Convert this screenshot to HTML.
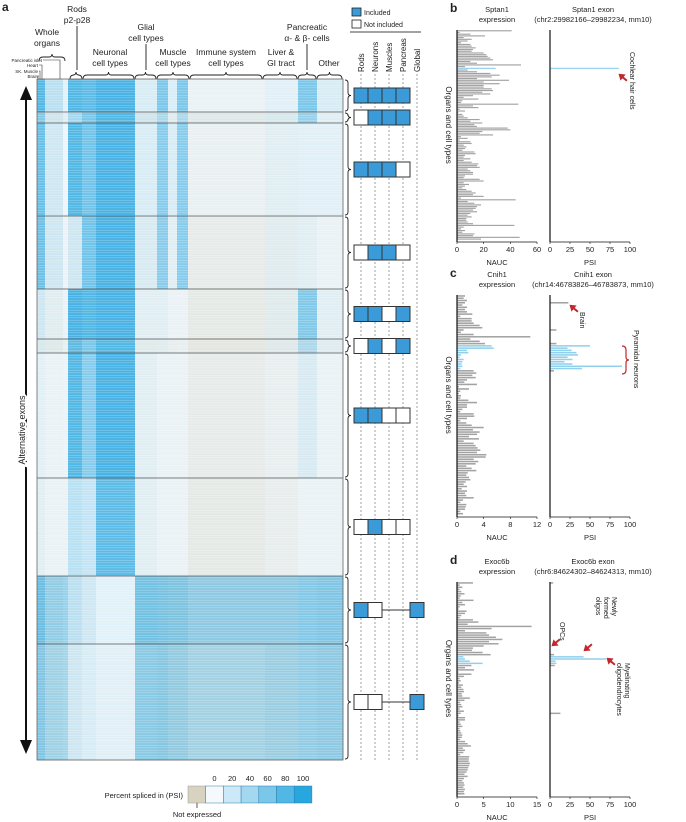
<!DOCTYPE html>
<html><head><meta charset="utf-8"><style>
html,body{margin:0;padding:0;background:#fff;}
svg{display:block;font-family:"Liberation Sans",Arial,sans-serif;}
text{fill:#222;}
</style></head><body>
<svg id="fig" width="686" height="822" viewBox="0 0 686 822" xmlns="http://www.w3.org/2000/svg">
<defs>
<pattern id="stripes" width="4" height="2.5" patternUnits="userSpaceOnUse"><rect x="0" y="0" width="4" height="0.6" fill="#fff" opacity="0.35"/></pattern>
</defs>
<g id="panelA">
<text x="2" y="11" font-size="12" font-weight="bold">a</text>
<g font-size="8.5" text-anchor="middle">
<text x="77" y="12">Rods</text><text x="77" y="23">p2-p28</text>
<text x="47" y="35">Whole</text><text x="47" y="46">organs</text>
<text x="146" y="30">Glial</text><text x="146" y="41">cell types</text>
<text x="110" y="55">Neuronal</text><text x="110" y="66">cell types</text>
<text x="173" y="55">Muscle</text><text x="173" y="66">cell types</text>
<text x="226" y="55">Immune system</text><text x="226" y="66">cell types</text>
<text x="281" y="55">Liver &amp;</text><text x="281" y="66">GI tract</text>
<text x="307" y="30">Pancreatic</text><text x="307" y="41">α- &amp; β- cells</text>
<text x="329" y="66">Other</text>
</g>
<g font-size="4.5" text-anchor="end">
<text x="42" y="62">Pancreatic islet</text><text x="38" y="67">Heart</text><text x="38" y="73">SK. Muscle</text><text x="38" y="78">Brain</text>
</g>
<g stroke="#333" stroke-width="0.6" fill="none">
<path d="M43 60 H60 V79"/><path d="M39 65 H42 V79"/><path d="M39 71 H40 V79"/><path d="M39 76 H38 V79"/>
<path d="M77 26 V70" stroke-width="1"/><path d="M146 44 V70" stroke-width="1"/><path d="M307 44 V70" stroke-width="1"/>
</g>
<g id="braces" stroke="#222" stroke-width="0.9" fill="none"></g>
<g id="heat"></g>
<g id="arrow">
<line x1="26" y1="98" x2="26" y2="742" stroke="#111" stroke-width="2"/>
<polygon points="26,86 20,100 32,100" fill="#111"/><polygon points="26,754 20,740 32,740" fill="#111"/>
<text x="0" y="0" font-size="9" text-anchor="middle" transform="translate(25,430) rotate(-90)" style="paint-order:stroke" stroke="#fff" stroke-width="4">Alternative exons</text>
</g>
<g id="legendTop">
<rect x="352" y="8" width="9" height="8" fill="#3a9bd8" stroke="#222" stroke-width="0.8"/>
<text x="364" y="15" font-size="7">Included</text>
<rect x="352" y="20" width="9" height="8" fill="#fff" stroke="#222" stroke-width="0.8"/>
<text x="364" y="27" font-size="7">Not included</text>
<line x1="350" y1="32" x2="421" y2="32" stroke="#444" stroke-width="1"/>
</g>
<g id="boxes"></g>
<g id="cbar"></g>
</g>
<g id="panels"></g>
</svg>
<script>
const NS="http://www.w3.org/2000/svg";
function mk(tag,attrs,parent){const e=document.createElementNS(NS,tag);for(const k in attrs)e.setAttribute(k,attrs[k]);parent.appendChild(e);return e;}

// ---------- Heatmap data ----------
const colEdges=[37,45,63,68,82,96,135,157,168,177,188,265,298,317,343];
const rowEdges=[79,112,123,216,289,339,353,478,576,644,760];
const psiBlocks=[
[80,30,10,80,75,85,15,60,15,60,5,10,60,15],
[60,20,10,40,60,80,20,40,10,40,10,15,50,10],
[70,20,5,80,65,85,15,55,15,55,5,10,10,10],
[70,20,5,20,65,85,15,55,10,55,5,10,10,5],
[20,10,5,85,80,85,10,10,5,5,5,10,60,10],
[15,10,5,80,60,80,10,10,5,5,5,10,40,10],
[10,5,5,80,55,85,10,5,5,5,5,5,15,5],
[10,5,5,30,25,75,10,5,5,5,5,5,5,5],
[75,55,50,30,20,10,70,70,70,70,60,60,60,65],
[65,50,45,20,15,10,60,65,60,60,50,55,55,60]];
const neBlocks=[
[0,0.05,0,0,0,0,0.05,0,0,0,0.1,0.05,0,0.05],
[0.1,0.2,0.1,0,0,0,0.2,0.1,0.2,0.1,0.3,0.2,0.1,0.1],
[0,0.05,0,0,0,0,0.05,0,0.05,0,0.15,0.1,0.05,0.05],
[0.05,0.1,0.05,0.1,0,0,0.1,0.05,0.1,0,0.3,0.2,0.1,0.1],
[0.1,0.15,0.1,0,0,0,0.1,0.1,0.1,0.1,0.35,0.25,0.05,0.1],
[0.2,0.3,0.2,0.1,0,0,0.25,0.2,0.25,0.2,0.45,0.3,0.15,0.2],
[0.05,0.1,0.05,0,0,0,0.1,0.1,0.1,0.1,0.3,0.2,0.1,0.1],
[0.1,0.1,0.1,0,0,0,0.1,0.1,0.1,0.1,0.35,0.25,0.1,0.1],
[0.1,0.15,0.1,0.05,0.05,0,0.1,0.15,0.2,0.2,0.2,0.2,0.1,0.15],
[0.15,0.2,0.15,0.1,0.05,0.05,0.15,0.2,0.25,0.25,0.25,0.25,0.15,0.2]];
const psiScaleLabels=["0","20","40","60","80","100"];
const patterns=[[1,1,1,1,-1],[0,1,1,1,-1],[1,1,1,0,-1],[0,1,1,0,-1],[1,1,0,1,-1],[0,1,0,1,-1],[1,1,0,0,-1],[0,1,0,0,-1],[1,0,-1,-1,1],[0,0,-1,-1,1]];
const patternNames=["Rods","Neurons","Muscles","Pancreas","Global"];

function mix(a,b,t){return a.map((v,i)=>Math.round(v+(b[i]-v)*t));}
function psiColor(p,ne){const c=mix([246,249,252],[40,166,222],Math.min(1,p/100));const d=mix(c,[216,211,192],ne||0);return `rgb(${d[0]},${d[1]},${d[2]})`;}
const heat=document.getElementById('heat');
for(let r=0;r<psiBlocks.length;r++){for(let c=0;c<colEdges.length-1;c++){
  const e=mk('rect',{x:colEdges[c],y:rowEdges[r],width:colEdges[c+1]-colEdges[c]+0.3,height:rowEdges[r+1]-rowEdges[r]+0.3,fill:psiColor(psiBlocks[r][c],neBlocks[r][c])},heat);
  
  
}}
mk('rect',{x:37,y:79,width:306,height:681,fill:'url(#stripes)'},heat);
for(let r=1;r<rowEdges.length-1;r++){const l=mk('line',{x1:37,x2:343,y1:rowEdges[r],y2:rowEdges[r],stroke:'#555','stroke-width':0.8},heat);
  
  }
mk('rect',{x:37,y:79,width:306,height:681,fill:'none',stroke:'#666','stroke-width':0.8},heat);

const braces=document.getElementById('braces');
function hbrace(x1,x2,y){const m=(x1+x2)/2;return `M${x1} ${y+4} Q${x1} ${y} ${x1+4} ${y} H${m-3} Q${m} ${y} ${m} ${y-3} Q${m} ${y} ${m+3} ${y} H${x2-4} Q${x2} ${y} ${x2} ${y+4}`;}
const braceSpans=[[39,65,57],[70,82,75],[83,134,75],[135,156,75],[157,189,75],[190,262,75],[263,297,75],[298,316,75],[317,342,75]];
braceSpans.forEach(s=>{const p=mk('path',{d:hbrace(s[0],s[1],s[2])},braces);
  
  });
function vbrace(y1,y2,x){const m=(y1+y2)/2;return `M${x-3} ${y1} Q${x} ${y1} ${x} ${y1+3} V${m-3} Q${x} ${m} ${x+3} ${m} Q${x} ${m} ${x} ${m+3} V${y2-3} Q${x} ${y2} ${x-3} ${y2}`;}
for(let r=0;r<rowEdges.length-1;r++){const p=mk('path',{d:vbrace(rowEdges[r]+1,rowEdges[r+1]-1,348)},braces);
  
  }

const boxes=document.getElementById('boxes');
const colX=[354,368,382,396,410];
const boxW=14, boxH=15;
patternNames.forEach((n,i)=>{
  const cx=colX[i]+boxW/2;
  const l=mk('line',{x1:cx,x2:cx,y1:74,y2:760,stroke:'#777','stroke-width':0.7,'stroke-dasharray':'2,2'},boxes);
  
  
  const t=mk('text',{x:0,y:0,'font-size':8,transform:`translate(${cx+3},72) rotate(-90)`},boxes);
  t.textContent=n;
  
  
});
for(let r=0;r<patterns.length;r++){
  const yc=(rowEdges[r]+rowEdges[r+1])/2;
  const y=yc-boxH/2;
  if(patterns[r][4]!==-1){mk('line',{x1:colX[1]+boxW,x2:colX[4],y1:yc,y2:yc,stroke:'#333','stroke-width':1},boxes);}
  patterns[r].forEach((v,c)=>{ if(v<0)return;
    const b=mk('rect',{x:colX[c],y:y,width:boxW,height:boxH,fill:v?'#3a9bd8':'#fff',stroke:'#333','stroke-width':1},boxes);
    
    });
}

const cbar=document.getElementById('cbar');
const cbT=mk('text',{x:183,y:798,'font-size':7.5,'text-anchor':'end'},cbar);cbT.textContent='Percent spliced in (PSI)';


const ne=mk('rect',{x:188,y:786,width:17.7,height:17,fill:'rgb(216,211,192)',stroke:'#999','stroke-width':0.5},cbar);


psiScaleLabels.forEach((lab,i)=>{
  const x=188+17.7*(i+1);
  const r=mk('rect',{x:x,y:786,width:17.7,height:17,fill:psiColor(+lab,0),stroke:'#2a7fb0','stroke-width':0.5},cbar);
  
  
  const t=mk('text',{x:x+8.8,y:781,'font-size':7.5,'text-anchor':'middle'},cbar);t.textContent=lab;
  
  
});
mk('line',{x1:197,x2:197,y1:803,y2:808,stroke:'#333','stroke-width':0.8},cbar);
const nt=mk('text',{x:197,y:817,'font-size':7.5,'text-anchor':'middle'},cbar);nt.textContent='Not expressed';



// ---------- Bar panels data ----------
const bExpr=[41,2,10,21,5,11,8,3,10,11,14,12,11,20,22,23,25,27,10,15,48,6,29,8,15,25,32,26,15,39,20,32,20,20,26,27,19,25,12,5,16,4,3,46,12,16,2,6,1,4,5,8,17,10,19,13,15,38,40,19,17,27,3,8,2,10,11,5,7,6,4,13,14,6,5,10,5,11,16,15,17,8,10,12,12,6,5,17,20,5,9,6,4,7,11,14,12,20,3,44,8,13,18,15,14,12,15,10,8,11,7,7,8,12,43,5,3,6,4,13,12,47,18];
const bBlue=[22];
const bPsiIdx=[22];
const bPsiVal=[86];
const bXTicks=[0,20,40,60];
const cExpr=[1.2,1,1.5,1.2,0.8,1.5,1.2,1.5,2.3,0.5,2.2,2.2,2.5,3.4,3.8,1,0.6,2.5,11,2,3.4,4.2,5.2,5.5,1.5,1.7,0.6,0.4,1,0.8,0.7,0.8,0.5,2.5,2.9,2.3,2.8,1.5,1.1,3,0.3,1.8,0.5,0.3,0.6,0.5,1.7,3,1.5,1.5,0.8,0.5,2.5,2.6,1.5,0.5,1.4,2.2,4,2.4,3.4,3,1.8,3.3,1,2.5,2.8,3.1,3.5,3,4.4,4.3,2.5,3.2,2.8,1.4,2.2,2.9,1.6,1.4,1.8,2,1.3,1,1.5,0.7,1.5,1.2,1.4,2.5,0.9,0.5,1.4,1.3,1.2,0.5,0.9];
const cBlue=[22,23,24,25,26,27,28,29,30,31,32];
const cPsiIdx=[3,15,21,22,23,24,25,26,27,28,29,30,31,32,33];
const cPsiVal=[23,8,8,50,22,27,33,35,22,28,18,28,90,40,5];
const cXTicks=[0,4,8,12];
const dExpr=[3,0.5,1,0.5,0.8,1.4,0.7,0.5,3.1,1,1.5,0.5,0.3,1.8,1.5,0.8,0.5,3,4,2,14,6.5,1.5,5.5,6,7.3,8.5,6,7.8,5,3,2.8,4.8,6.3,1.2,1.5,2.4,4.8,2.7,1.5,3.2,0.3,2.7,1.3,0.5,0.7,0.4,1.1,0.8,1.2,1.3,0.9,1,2.4,1.4,0.6,0.8,1,0.5,1.3,0.7,0.3,1.5,1.5,0.5,0.7,1,0.5,0.6,0.8,1,0.9,0.6,1.5,2,2.6,1.1,1.5,1.2,0.6,2.3,2.2,2.2,2.4,2.3,2.1,2,1.8,1.4,2,1.3,1,1.3,1.4,1.2,1.5,1.3,1.4];
const dBlue=[34,35,36,37];
const dPsiIdx=[0,33,34,35,36,37,38,60];
const dPsiVal=[4,5,42,70,7,8,6,13];
const dXTicks=[0,5,10,15];
const psiTicks=[0,25,50,75,100];

const panelsG=document.getElementById('panels');
const EX0=457,EX1=537,PX0=550,PX1=630;
function txt(x,y,s,size,anchor,parent,name,extra){const t=mk('text',Object.assign({x:x,y:y,'font-size':size,'text-anchor':anchor||'start'},extra||{}),parent);t.textContent=s;
  
  return t;}
function panel(cfg){
  const g=mk('g',{},panelsG);
  
  
  txt(450,cfg.top-18,cfg.letter,12,'start',g,'panel-label-'+cfg.letter,{'font-weight':'bold'});
  txt(497,cfg.top-18,cfg.gene,7.5,'middle',g,'expression-title');
  txt(497,cfg.top-8,'expression',7.5,'middle',g,'expression-title');
  txt(593,cfg.top-18,cfg.gene+' exon',7.5,'middle',g,'exon-title');
  txt(593,cfg.top-8,cfg.coord,7.5,'middle',g,'exon-title');
  const n=cfg.expr.length, bh=(cfg.bottom-cfg.top)/n;
  const ex=v=>EX0+(EX1-EX0)*v/cfg.eMax;
  const px=v=>PX0+(PX1-PX0)*v/100;
  const yi=i=>cfg.top+i*bh;
  cfg.expr.forEach((v,i)=>{const blue=cfg.blue.indexOf(i)>=0;
    const r=mk('rect',{x:EX0,y:yi(i)+0.2,width:Math.max(0,ex(v)-EX0),height:bh*0.68,fill:blue?'#8fd0ec':'#a3a3a3'},g);
    
    });
  cfg.psiIdx.forEach((idx,k)=>{const blue=cfg.blue.indexOf(idx)>=0;
    const r=mk('rect',{x:PX0,y:yi(idx)+0.2,width:px(cfg.psiVal[k])-PX0,height:bh*0.68,fill:blue?'#8fd0ec':'#a3a3a3'},g);
    
    });
  mk('line',{x1:EX0,x2:EX0,y1:cfg.top,y2:cfg.bottom+2,stroke:'#111','stroke-width':1.2},g);
  mk('line',{x1:PX0,x2:PX0,y1:cfg.top,y2:cfg.bottom+2,stroke:'#111','stroke-width':1.2},g);
  mk('line',{x1:EX0,x2:EX1,y1:cfg.bottom+2,y2:cfg.bottom+2,stroke:'#111','stroke-width':0.8},g);
  mk('line',{x1:PX0,x2:PX1,y1:cfg.bottom+2,y2:cfg.bottom+2,stroke:'#111','stroke-width':0.8},g);
  cfg.ticks.forEach(t=>{mk('line',{x1:ex(t),x2:ex(t),y1:cfg.bottom+2,y2:cfg.bottom+4,stroke:'#111','stroke-width':0.6},g);
    txt(ex(t),cfg.bottom+12,String(t),7.5,'middle',g,'x-tick-label');});
  psiTicks.forEach(t=>{mk('line',{x1:px(t),x2:px(t),y1:cfg.bottom+2,y2:cfg.bottom+4,stroke:'#111','stroke-width':0.6},g);
    txt(px(t),cfg.bottom+12,String(t),7.5,'middle',g,'x-tick-label');});
  txt(497,cfg.bottom+25,'NAUC',7.5,'middle',g,'x-axis-title');
  txt(590,cfg.bottom+25,'PSI',7.5,'middle',g,'x-axis-title');
  txt(0,0,'Organs and cell types',8,'middle',g,'y-axis-title',{transform:`translate(446,${(cfg.top+cfg.bottom)/2-10}) rotate(90)`});
  return {g,px,yi,bh};
}
function redArrow(g,x,y,ang){const a=mk('g',{transform:`translate(${x},${y}) rotate(${ang})`},g);
  mk('line',{x1:0,y1:0,x2:9,y2:0,stroke:'#c1272d','stroke-width':2},a);
  mk('polygon',{points:'-2,0 4,-4 4,4',fill:'#c1272d'},a);
  
  }

const pb=panel({letter:'b',gene:'Sptan1',coord:'(chr2:29982166–29982234, mm10)',top:30,bottom:240,expr:bExpr,blue:bBlue,psiIdx:bPsiIdx,psiVal:bPsiVal,eMax:60,ticks:bXTicks});
redArrow(pb.g,620,75,40);
txt(0,0,'Cochlear hair cells',7,'start',pb.g,'annotation-label',{transform:'translate(630,52) rotate(90)'});
const pc=panel({letter:'c',gene:'Cnih1',coord:'(chr14:46783826–46783873, mm10)',top:295,bottom:515,expr:cExpr,blue:cBlue,psiIdx:cPsiIdx,psiVal:cPsiVal,eMax:12,ticks:cXTicks});
redArrow(pc.g,571,306,40);
txt(0,0,'Brain',7,'start',pc.g,'annotation-label',{transform:'translate(580,312) rotate(90)'});
mk('path',{d:'M622 346 Q626 346 626 350 V357 Q626 360 629 360 Q626 360 626 363 V370 Q626 374 622 374',stroke:'#c1272d','stroke-width':1.2,fill:'none'},pc.g);
txt(0,0,'Pyramidal neurons',7,'start',pc.g,'annotation-label',{transform:'translate(634,330) rotate(90)'});
const pd=panel({letter:'d',gene:'Exoc6b',coord:'(chr6:84624302–84624313, mm10)',top:582,bottom:795,expr:dExpr,blue:dBlue,psiIdx:dPsiIdx,psiVal:dPsiVal,eMax:15,ticks:dXTicks});
redArrow(pd.g,553,645,-40);redArrow(pd.g,585,650,-40);redArrow(pd.g,608,659,40);
txt(0,0,'OPCs',7,'start',pd.g,'annotation-label',{transform:'translate(560,622) rotate(90)'});
txt(0,0,'Newly',7,'start',pd.g,'annotation-label',{transform:'translate(612,597) rotate(90)'});
txt(0,0,'formed',7,'start',pd.g,'annotation-label',{transform:'translate(604,597) rotate(90)'});
txt(0,0,'oligos',7,'start',pd.g,'annotation-label',{transform:'translate(596,597) rotate(90)'});
txt(0,0,'Myelinating',7,'start',pd.g,'annotation-label',{transform:'translate(625,663) rotate(90)'});
txt(0,0,'oligodendrocytes',7,'start',pd.g,'annotation-label',{transform:'translate(617,663) rotate(90)'});
</script>
</body></html>
